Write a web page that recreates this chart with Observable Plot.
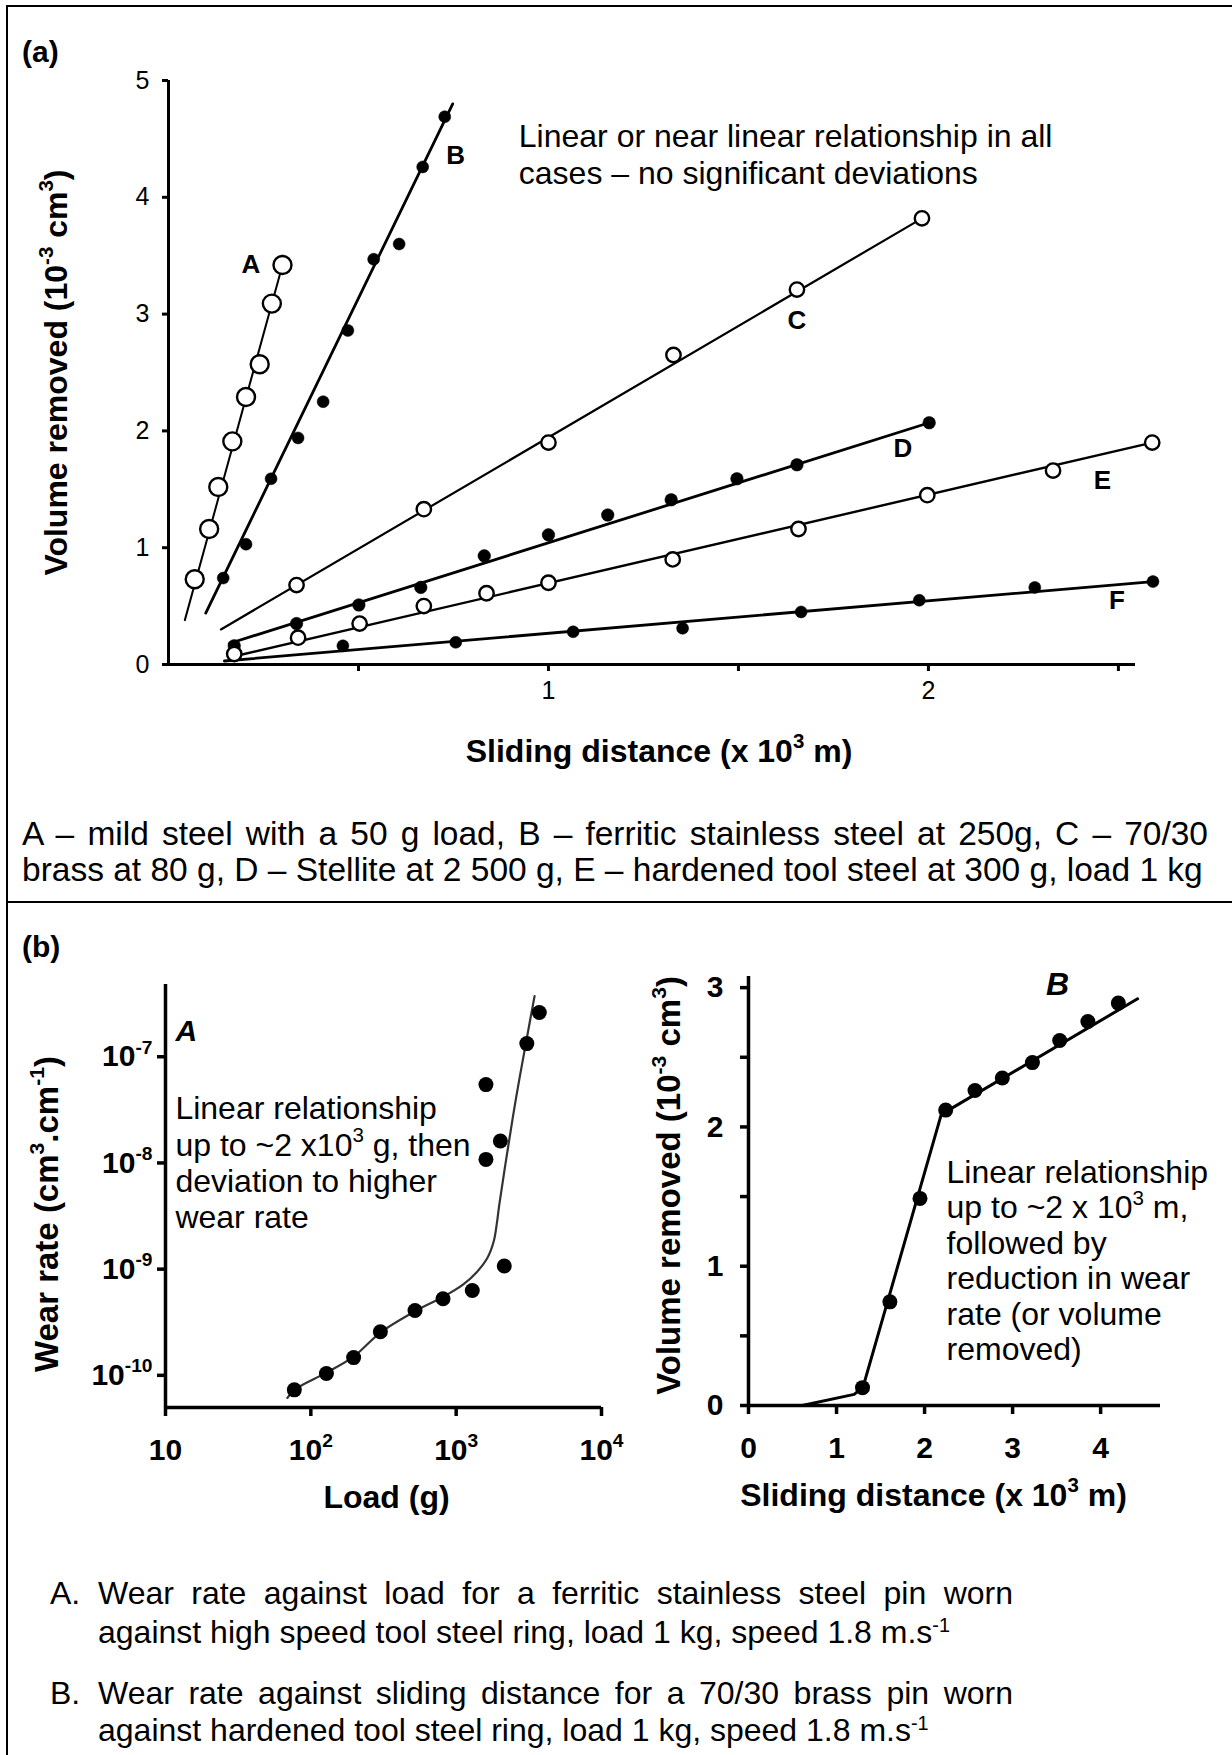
<!DOCTYPE html>
<html><head><meta charset="utf-8">
<script src="https://cdn.jsdelivr.net/npm/d3@7"></script>
<script src="https://cdn.jsdelivr.net/npm/@observablehq/plot@0.6"></script>
<style>
html,body{margin:0;padding:0;background:#fff;}
#fig{position:relative;width:1232px;height:1755px;overflow:hidden;background:#fff;font-family:"Liberation Sans",Arial,Helvetica,sans-serif;color:#000;}
.abs{position:absolute;}
.chart{position:absolute;}
.chart svg{overflow:visible;display:block;}
.hline{position:absolute;height:2px;background:#000;}
.vline{position:absolute;width:2px;background:#000;}
.panel{font-weight:bold;font-size:30px;line-height:34px;}
.cap{position:absolute;font-size:32px;white-space:nowrap;}
.just{text-align:justify;text-align-last:justify;white-space:normal;}
sup{font-size:62%;vertical-align:0.55em;line-height:0;}
</style></head><body>
<div id="fig">
  <div id="chartA" class="chart" style="left:0;top:0"></div>
  <div id="chartB1" class="chart" style="left:0;top:910px"></div>
  <div id="chartB2" class="chart" style="left:620px;top:910px"></div>
  <div class="hline" style="left:7px;top:5px;width:1225px"></div>
  <div class="vline" style="left:6px;top:5px;height:1750px"></div>
  <div class="hline" style="left:7px;top:901px;width:1225px"></div>
  <div class="abs panel" style="left:22px;top:35px">(a)</div>
  <div class="abs panel" style="left:22px;top:930px">(b)</div>
  <div id="capA1" class="cap just" style="left:22px;top:816px;width:1186px;line-height:36px;font-size:33.5px"></div>
  <div id="capA2" class="cap" style="left:22px;top:852px;line-height:36px;font-size:33.5px"></div>
  <div id="capB1m" class="cap" style="left:50px;top:1574px;line-height:38px"></div>
  <div id="capB1" class="cap just" style="left:98px;top:1574px;width:915px;line-height:38px"></div>
  <div id="capB1b" class="cap" style="left:98px;top:1613px;line-height:38px"></div>
  <div id="capB2m" class="cap" style="left:50px;top:1674px;line-height:38px"></div>
  <div id="capB2" class="cap just" style="left:98px;top:1674px;width:915px;line-height:38px"></div>
  <div id="capB2b" class="cap" style="left:98px;top:1711px;line-height:38px"></div>
</div>
<script>
// ---------- Panel (a): volume removed vs sliding distance ----------
const ptsA = [[0.069,0.73],[0.107,1.16],[0.131,1.52],[0.168,1.91],[0.204,2.29],[0.240,2.57],[0.272,3.09],[0.300,3.42]];
const ptsB = [[0.144,0.74],[0.204,1.03],[0.270,1.59],[0.341,1.94],[0.407,2.25],[0.472,2.86],[0.540,3.47],[0.607,3.60],[0.669,4.26],[0.727,4.69]];
const ptsC = [[0.337,0.68],[0.672,1.33],[1.000,1.90],[1.329,2.65],[1.654,3.21],[1.983,3.82]];
const ptsD = [[0.173,0.16],[0.337,0.35],[0.501,0.51],[0.664,0.66],[0.831,0.93],[1.000,1.11],[1.156,1.28],[1.323,1.41],[1.496,1.59],[1.654,1.71],[2.002,2.07]];
const ptsE = [[0.173,0.09],[0.341,0.23],[0.503,0.35],[0.672,0.50],[0.837,0.61],[1.000,0.70],[1.327,0.90],[1.658,1.16],[1.997,1.45],[2.328,1.66],[2.589,1.90]];
const ptsF = [[0.459,0.16],[0.756,0.19],[1.065,0.28],[1.353,0.31],[1.665,0.45],[1.976,0.55],[2.280,0.66],[2.591,0.71]];
// fitted straight lines [start, end]
const fitA = [[0.043,0.38],[0.300,3.42]];
const fitB = [[0.098,0.44],[0.748,4.80]];
const fitC = [[0.138,0.30],[1.983,3.82]];
const fitD = [[0.160,0.18],[2.002,2.07]];
const fitE = [[0.160,0.06],[2.589,1.90]];
const fitF = [[0.147,0.03],[2.591,0.71]];
const seriesNames = ["A","B","C","D","E","F"];
const labelPosA = [[0.217,3.42],[0.756,4.36],[1.654,2.945],[1.933,1.847],[2.458,1.575],[2.496,0.548]];
const xDomainA = [0, 2.545];
const yDomainA = [0, 5];
const xTicksA = [0.5, 1, 1.5, 2, 2.5];
const yTicksA = [0, 1, 2, 3, 4, 5];
const noteA = ["Linear or near linear relationship in all", "cases – no significant deviations"];
const notePosA = [0.922, 4.627];
const xTitleA = "Sliding distance (x 10^{3} m)";
const yTitleA = "Volume removed (10^{-3} cm^{3})";
const yTitlePosA = [-0.295, 2.50];

// ---------- Panel (b) A: wear rate vs load (log-log) ----------
const loadPts = [77, 128, 197, 301, 521, 812, 1291, 1603, 1603, 2014, 2143, 3063, 3733];
const wearPts = [7.3e-11, 1.04e-10, 1.47e-10, 2.57e-10, 4.08e-10, 5.27e-10, 6.3e-10, 5.47e-8, 1.08e-8, 1.61e-8, 1.07e-9, 1.33e-7, 2.61e-7];
const curveLoad = [69, 77.5, 128, 197, 301, 522, 813, 1120, 1390, 1642, 1812, 1904, 1975, 2208, 2576, 3061, 3463];
const curveWear = [6.14e-11, 7.34e-11, 1.06e-10, 1.50e-10, 2.53e-10, 4.02e-10, 5.48e-10, 7.19e-10, 9.42e-10, 1.28e-9, 1.82e-9, 2.68e-9, 3.94e-9, 1.08e-8, 4.01e-8, 1.49e-7, 3.72e-7];
const xDomainB1 = [10, 1e4];
const yDomainB1 = [4.98e-11, 4.79e-7];
const xTicksB1 = [10, 100, 1000, 10000];
const yTicksB1 = [1e-10, 1e-9, 1e-8, 1e-7];
const noteB1 = ["Linear relationship", "up to ~2 x10^{3} g, then", "deviation to higher", "wear rate"];
const notePosB1 = [11.7, 4.2e-8];
const tagPosB1 = [13.9, 1.75e-7];
const xTitleB1 = "Load (g)";
const yTitleB1 = "Wear rate (cm^{3}.cm^{-1})";
const yTitlePosB1 = [1.54, 3.3e-9];

// ---------- Panel (b) B: volume removed vs sliding distance ----------
const distB = [1.295, 1.606, 1.948, 2.240, 2.573, 2.883, 3.225, 3.535, 3.855, 4.201];
const volB = [0.128, 0.744, 1.487, 2.121, 2.262, 2.351, 2.462, 2.620, 2.757, 2.889];
const lineDistB = [0.61, 1.20, 1.30, 2.19, 4.42];
const lineVolB = [0.0, 0.08, 0.13, 2.09, 2.92];
const xDomainB2 = [0, 4.68];
const yDomainB2 = [0, 3.08];
const xTicksB2 = [0, 1, 2, 3, 4];
const yTicksB2 = [0, 0.5, 1, 1.5, 2, 2.5, 3];
const noteB2 = ["Linear relationship", "up to ~2 x 10^{3} m,", "followed by", "reduction in wear", "rate (or volume", "removed)"];
const notePosB2 = [2.25, 1.762];
const tagPosB2 = [3.51, 3.02];
const xTitleB2 = "Sliding distance (x 10^{3} m)";
const yTitleB2 = "Volume removed (10^{-3} cm^{3})";
const yTitlePosB2 = [-0.898, 1.58];

// ---------- Captions ----------
const captionA = ["A – mild steel with a 50 g load, B – ferritic stainless steel at 250g, C – 70/30",
                  "brass at 80 g, D – Stellite at 2 500 g, E – hardened tool steel at 300 g, load 1 kg"];
const captionB = [["A.", "Wear rate against load for a ferritic stainless steel pin worn", "against high speed tool steel ring, load 1 kg, speed 1.8 m.s<sup>-1</sup>"],
                  ["B.", "Wear rate against sliding distance for a 70/30 brass pin worn", "against hardened tool steel ring, load 1 kg, speed 1.8 m.s<sup>-1</sup>"]];

const FONT = '"Liberation Sans", Arial, Helvetica, sans-serif';
const NS = "http://www.w3.org/2000/svg";

function supify(root) {
  // drop empty tick labels (minor ticks carry no text)
  [...root.querySelectorAll("text")].forEach(t => { if (t.textContent.trim() === "") t.remove(); });
  const els = [...root.querySelectorAll("text, tspan")].filter(el =>
    [...el.childNodes].every(n => n.nodeType === 3) && /\^\{/.test(el.textContent));
  for (const el of els) {
    const fs = parseFloat(getComputedStyle(el).fontSize) || 16;
    const rise = 0.42 * fs;
    const parts = el.textContent.split(/(\^\{[^}]*\})/).filter(p => p);
    el.textContent = "";
    let raised = false;
    for (const p of parts) {
      const t = document.createElementNS(NS, "tspan");
      if (p.startsWith("^{")) {
        t.textContent = p.slice(2, -1);
        t.setAttribute("font-size", (0.64 * fs).toFixed(1));
        t.setAttribute("dy", (-rise).toFixed(1));
        raised = true;
      } else {
        t.textContent = p;
        if (raised) { t.setAttribute("dy", rise.toFixed(1)); raised = false; }
      }
      el.appendChild(t);
    }
  }
}

// one row per annotation line; lines step down by a fixed screen distance
function lineRows(lines, x, yTop, scaleY, pxStep) {
  return lines.map((t, i) => ({t, x, y: scaleY.invert(scaleY.apply(yTop) + i * pxStep)}));
}

const toRows = (s, arr) => arr.map(([x, y]) => ({s, x, y}));
const pts = [ptsA, ptsB, ptsC, ptsD, ptsE, ptsF];
const fits = [fitA, fitB, fitC, fitD, fitE, fitF];
const openSeries = new Set(["A", "C", "E"]);
const dotR = {A: 9, B: 6, C: 7.2, D: 6.3, E: 7.2, F: 6};
const lineW = {A: 2, B: 2.8, C: 2.2, D: 2.8, E: 2.4, F: 2.8};

// ---- chart (a) ----
const scA = Plot.scale({y: {domain: yDomainA, range: [790 - 126, 80]}});
const marksA = [
  Plot.ruleY([yDomainA[0]], {x1: xDomainA[0], x2: xDomainA[1], strokeWidth: 3}),
  Plot.ruleX([xDomainA[0]], {y1: yDomainA[0], y2: yDomainA[1], strokeWidth: 3}),
  Plot.axisY({ticks: yTicksA, tickSize: 6, tickPadding: 13, fontSize: 25, strokeWidth: 3, tickFormat: d => String(d), label: null}),
  Plot.axisX({ticks: xTicksA, tickSize: 7, tickPadding: 10, fontSize: 25, strokeWidth: 3, tickFormat: d => Number.isInteger(d) ? String(d) : "", label: null})
];
seriesNames.forEach((s, i) => {
  marksA.push(Plot.line(toRows(s, fits[i]), {x: "x", y: "y", stroke: "black", strokeWidth: lineW[s]}));
});
seriesNames.forEach((s, i) => {
  const open = openSeries.has(s);
  marksA.push(Plot.dot(toRows(s, pts[i]), {x: "x", y: "y", r: dotR[s], fill: open ? "white" : "black",
    stroke: "black", strokeWidth: open ? 2.4 : 0.5}));
});
marksA.push(
  Plot.text(seriesNames.map((s, i) => ({s, x: labelPosA[i][0], y: labelPosA[i][1]})),
    {x: "x", y: "y", text: "s", fontWeight: "bold", fontSize: 26}),
  Plot.text(lineRows(noteA, notePosA[0], notePosA[1], scA, 37), {x: "x", y: "y", text: "t", textAnchor: "start", lineAnchor: "top", fontSize: 32}),
  Plot.text([xTitleA], {frameAnchor: "bottom", dx: 7, dy: 97, text: d => d, fontSize: 32, fontWeight: "bold"}),
  Plot.text([yTitleA], {x: yTitlePosA[0], y: yTitlePosA[1], rotate: -90, text: d => d, fontSize: 32, fontWeight: "bold"})
);
const plotA = Plot.plot({
  width: 1232, height: 790,
  marginLeft: 168, marginRight: 97, marginTop: 80, marginBottom: 126,
  x: {domain: xDomainA, axis: null},
  y: {domain: yDomainA, axis: null},
  style: {fontFamily: FONT, background: "transparent", overflow: "visible", color: "black"},
  marks: marksA
});
document.getElementById("chartA").appendChild(plotA);

// ---- chart (b) A ----
const rowsB1 = loadPts.map((x, i) => ({x, y: wearPts[i]}));
const curveB1 = curveLoad.map((x, i) => ({x, y: curveWear[i]}));
const expFmt = d => `10^{${Math.round(Math.log10(d))}}`;
const scB1 = Plot.scale({y: {type: "log", domain: yDomainB1, range: [620 - 123, 74]}});
const plotB1 = Plot.plot({
  width: 660, height: 620,
  marginLeft: 165, marginRight: 59, marginTop: 74, marginBottom: 123,
  x: {type: "log", domain: xDomainB1, axis: null},
  y: {type: "log", domain: yDomainB1, axis: null},
  style: {fontFamily: FONT, background: "transparent", overflow: "visible", color: "black"},
  marks: [
    Plot.ruleY([yDomainB1[0]], {x1: xDomainB1[0], x2: xDomainB1[1], strokeWidth: 3.5}),
    Plot.ruleX([xDomainB1[0]], {y1: yDomainB1[0], y2: yDomainB1[1], strokeWidth: 3.5}),
    Plot.axisY({ticks: yTicksB1, tickSize: 8, tickPadding: 5, fontSize: 30, fontWeight: "bold", strokeWidth: 3.5, tickFormat: expFmt, label: null}),
    Plot.axisX({ticks: xTicksB1, tickSize: 9, tickPadding: 22, fontSize: 30, fontWeight: "bold", strokeWidth: 3.5,
      tickFormat: d => d === 10 ? "10" : expFmt(d), label: null}),
    Plot.line(curveB1, {x: "x", y: "y", curve: "catmull-rom", stroke: "#333", strokeWidth: 2.2}),
    Plot.dot(rowsB1, {x: "x", y: "y", r: 7.5, fill: "black"}),
    Plot.text(["A"], {x: tagPosB1[0], y: tagPosB1[1], text: d => d, fontSize: 30, fontWeight: "bold", fontStyle: "italic"}),
    Plot.text(lineRows(noteB1, notePosB1[0], notePosB1[1], scB1, 36.2), {x: "x", y: "y", text: "t", textAnchor: "start", lineAnchor: "top", fontSize: 32}),
    Plot.text([xTitleB1], {frameAnchor: "bottom", dx: 3, dy: 100, text: d => d, fontSize: 32, fontWeight: "bold"}),
    Plot.text([yTitleB1], {x: yTitlePosB1[0], y: yTitlePosB1[1], rotate: -90, text: d => d, fontSize: 33, fontWeight: "bold"})
  ]
});
document.getElementById("chartB1").appendChild(plotB1);

// ---- chart (b) B ----
const rowsB2 = distB.map((x, i) => ({x, y: volB[i]}));
const lineB2 = lineDistB.map((x, i) => ({x, y: lineVolB[i]}));
const scB2 = Plot.scale({y: {domain: yDomainB2, range: [620 - 125, 66]}});
const plotB2 = Plot.plot({
  width: 612, height: 620,
  marginLeft: 128, marginRight: 72, marginTop: 66, marginBottom: 125,
  x: {domain: xDomainB2, axis: null},
  y: {domain: yDomainB2, axis: null},
  style: {fontFamily: FONT, background: "transparent", overflow: "visible", color: "black"},
  marks: [
    Plot.ruleY([yDomainB2[0]], {x1: xDomainB2[0], x2: xDomainB2[1], strokeWidth: 3.5}),
    Plot.ruleX([xDomainB2[0]], {y1: yDomainB2[0], y2: yDomainB2[1], strokeWidth: 3.5}),
    Plot.axisY({ticks: yTicksB2, tickSize: 8, tickPadding: 17, fontSize: 30, fontWeight: "bold", strokeWidth: 3.5,
      tickFormat: d => Number.isInteger(d) ? String(d) : "", label: null}),
    Plot.axisX({ticks: xTicksB2, tickSize: 9, tickPadding: 22, fontSize: 30, fontWeight: "bold", strokeWidth: 3.5,
      tickFormat: d => String(d), label: null}),
    Plot.line(lineB2, {x: "x", y: "y", stroke: "black", strokeWidth: 3}),
    Plot.dot(rowsB2, {x: "x", y: "y", r: 7.5, fill: "black"}),
    Plot.text(["B"], {x: tagPosB2[0], y: tagPosB2[1], text: d => d, fontSize: 32, fontWeight: "bold", fontStyle: "italic"}),
    Plot.text(lineRows(noteB2, notePosB2[0], notePosB2[1], scB2, 35.5), {x: "x", y: "y", text: "t", textAnchor: "start", lineAnchor: "top", fontSize: 32}),
    Plot.text([xTitleB2], {frameAnchor: "bottom", dx: -21, dy: 100, text: d => d, fontSize: 32, fontWeight: "bold"}),
    Plot.text([yTitleB2], {x: yTitlePosB2[0], y: yTitlePosB2[1], rotate: -90, text: d => d, fontSize: 33, fontWeight: "bold"})
  ]
});
document.getElementById("chartB2").appendChild(plotB2);

[plotA, plotB1, plotB2].forEach(supify);

// captions
document.getElementById("capA1").textContent = captionA[0];
document.getElementById("capA2").textContent = captionA[1];
document.getElementById("capB1m").textContent = captionB[0][0];
document.getElementById("capB1").textContent = captionB[0][1];
document.getElementById("capB1b").innerHTML = captionB[0][2];
document.getElementById("capB2m").textContent = captionB[1][0];
document.getElementById("capB2").textContent = captionB[1][1];
document.getElementById("capB2b").innerHTML = captionB[1][2];
</script>
</body></html>
